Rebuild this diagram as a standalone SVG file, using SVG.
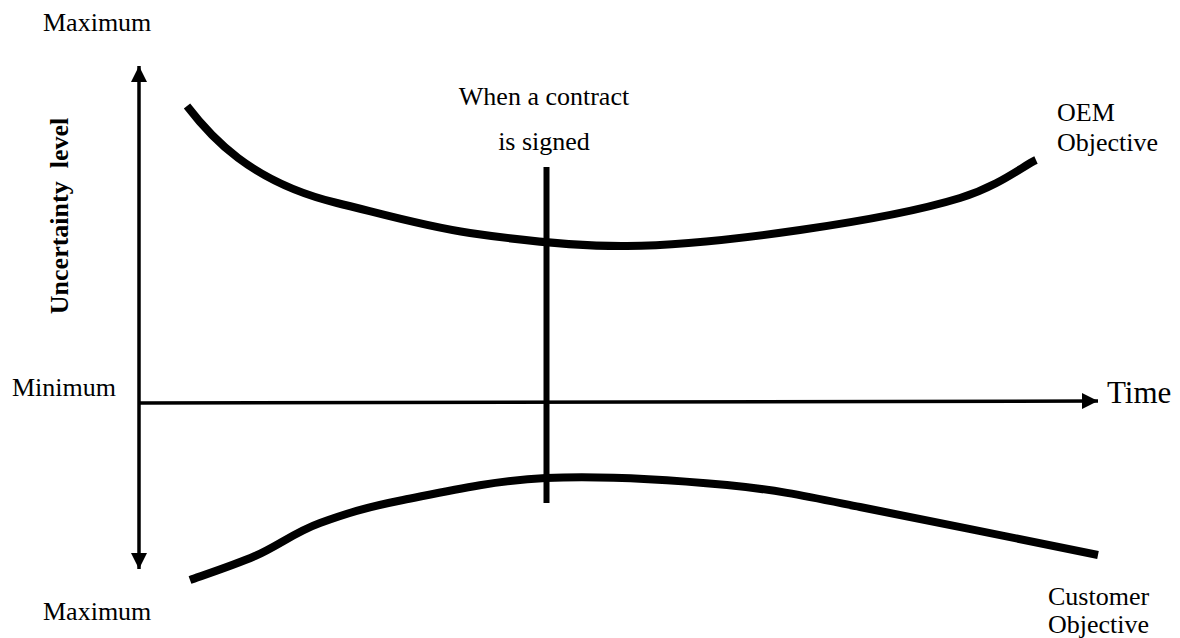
<svg xmlns="http://www.w3.org/2000/svg" width="1180" height="638" viewBox="0 0 1180 638">
  <style>
    .lbl { font-family: "Liberation Serif", "Times New Roman", serif; font-size: 26px; fill: #000; }
    .big { font-size: 31px; }
    .bold { font-weight: bold; white-space: pre; }
    .axis { stroke: #000; stroke-width: 3.5; fill: none; }
    .curve { stroke: #000; stroke-width: 8; fill: none; stroke-linecap: butt; }
    .mark { stroke: #000; stroke-width: 6; fill: none; }
  </style>
  <defs>
    <marker id="arrow" markerUnits="userSpaceOnUse" markerWidth="18" markerHeight="16" refX="16" refY="8" orient="auto">
      <path d="M0,0 L16,8 L0,16 Z" fill="#000"/>
    </marker>
  </defs>
  <rect x="0" y="0" width="1180" height="638" fill="#fff"/>

  <g id="connectors">
    <line class="axis" x1="139" y1="320" x2="139" y2="66" marker-end="url(#arrow)"/>
    <line class="axis" x1="139" y1="320" x2="139" y2="569" marker-end="url(#arrow)"/>
    <line class="axis" x1="139" y1="403" x2="1098" y2="401" marker-end="url(#arrow)" stroke-width="3"/>
  </g>

  <g id="oem-curve">
    <path class="curve" d="M187,106 C210,136 250,182 337,203 C375,212 422,226 470,233 C518,240 572,246.5 627,246 C682,245.5 744.5,238 800,230 C855.5,222 921,210 960,198 C999,186 1023,166 1036,160"/>
  </g>

  <g id="customer-curve">
    <path class="curve" d="M190,580 C201,576 233,565.5 255,556 C277,546.5 295,532 320,523 C345,514 365,507.5 403,500 C441,492.5 492,480.5 546,478 C600,475.5 674.7,480.2 727,485 C779,490 810,497 860,507 C922,519 1058,547 1098,555"/>
  </g>

  <g id="contract-line">
    <line class="mark" x1="546.5" y1="167" x2="546.5" y2="503"/>
  </g>

  <g id="label-max-top">
    <text class="lbl" x="43" y="31">Maximum</text>
  </g>
  <g id="label-min">
    <text class="lbl" x="12" y="396">Minimum</text>
  </g>
  <g id="label-max-bottom">
    <text class="lbl" x="43" y="620">Maximum</text>
  </g>
  <g id="label-uncertainty">
    <text class="lbl bold" xml:space="preserve" text-anchor="middle" transform="translate(68,216) rotate(-90)">Uncertainty  level</text>
  </g>
  <g id="label-time">
    <text class="lbl big" x="1107" y="403">Time</text>
  </g>
  <g id="label-contract">
    <text class="lbl" x="544" y="105" text-anchor="middle">When a contract</text>
    <text class="lbl" x="544" y="150" text-anchor="middle">is signed</text>
  </g>
  <g id="label-oem">
    <text class="lbl" x="1057" y="121">OEM</text>
    <text class="lbl" x="1057" y="151">Objective</text>
  </g>
  <g id="label-customer">
    <text class="lbl" x="1048" y="605">Customer</text>
    <text class="lbl" x="1048" y="633">Objective</text>
  </g>
</svg>
